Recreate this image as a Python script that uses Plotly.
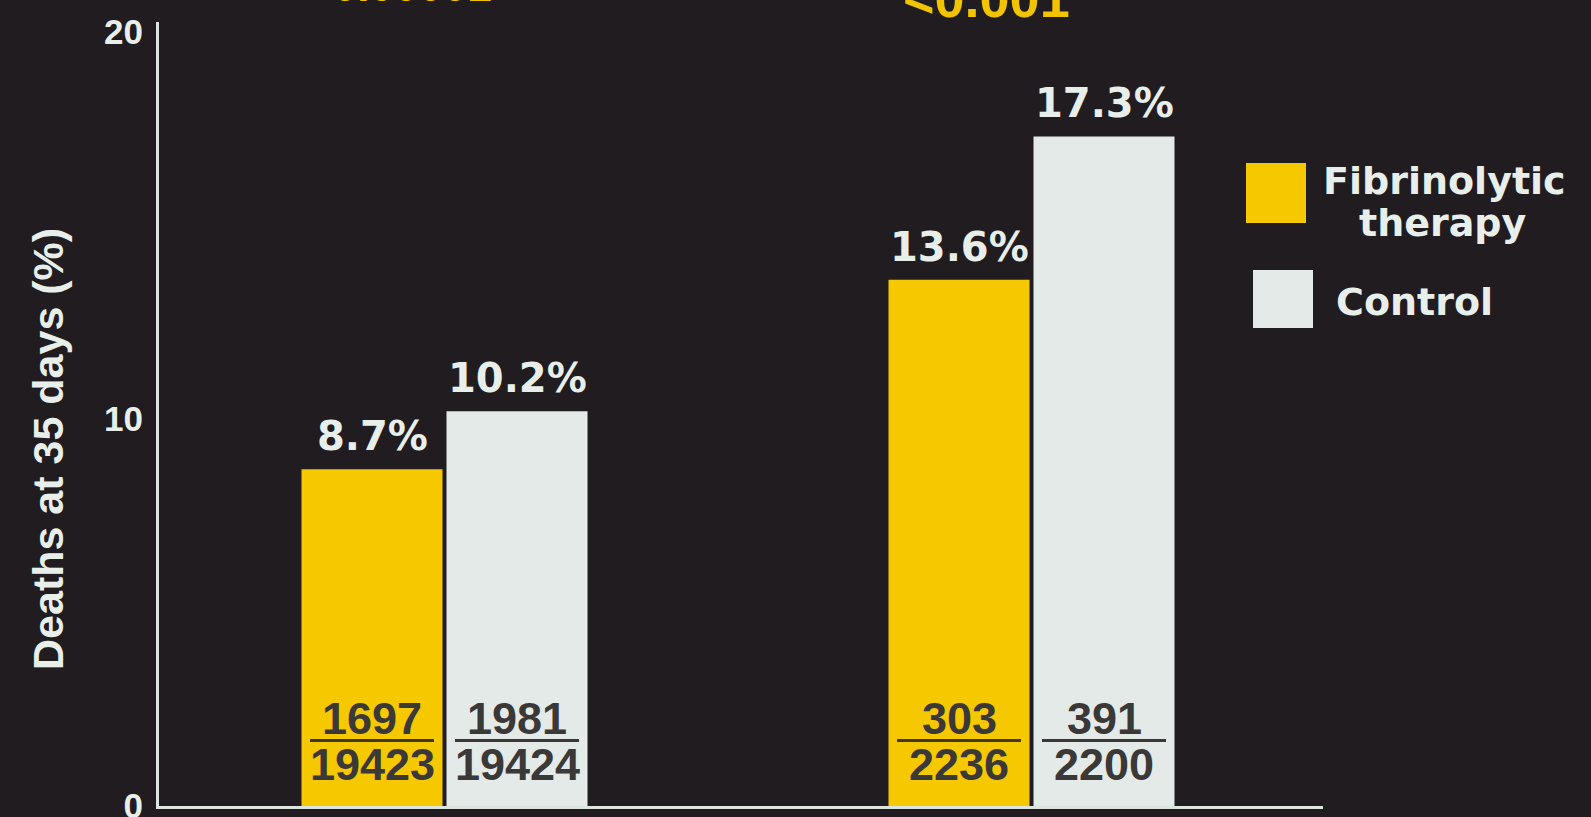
import plotly.graph_objects as go

# 35-day mortality: fibrinolytic therapy vs control in two patient groups
fib_pct = [8.7, 13.6]
ctrl_pct = [10.2, 17.3]
fib_deaths = [1697, 303]
fib_total = [19423, 2236]
ctrl_deaths = [1981, 391]
ctrl_total = [19424, 2200]
p_values = ["<0.00001", "<0.001"]
series_names = ["Fibrinolytic therapy", "Control"]
y_ticks = [0, 10, 20]

# page / plot geometry (pixels)
W, H = 1591, 817
L, R, T, B = 159, 268, 22, 11
PLOT_W = W - L - R
PLOT_H = H - T - B
PX_PER_PCT = 38.7
Y_MAX = PLOT_H / PX_PER_PCT

GROUP_PX = 587                      # distance between the two group centres
X_MIN = -285.5 / GROUP_PX
X_MAX = X_MIN + PLOT_W / GROUP_PX
BAR_W = 141 / GROUP_PX
GAP = 4 / GROUP_PX
OFFSETS = [-(BAR_W + GAP / 2), GAP / 2]

BG = "#201c20"
YELLOW = "#f6c800"
LIGHT = "#e4eae7"
TEXT = "#e8efeb"
DARK_TEXT = "#3b3838"
AXIS = "#dde5e1"
BOLD_SANS = "Liberation Sans"
WIDE_SANS = "DejaVu Sans"


def py(p):
    """page pixel row -> paper y"""
    return (H - B - p) / PLOT_H


def px(p):
    """page pixel column -> paper x"""
    return (p - L) / PLOT_W


groups = list(range(len(fib_pct)))
series = [
    (fib_pct, fib_deaths, fib_total, YELLOW),
    (ctrl_pct, ctrl_deaths, ctrl_total, LIGHT),
]

fig = go.Figure()
annotations = []
shapes = []

for k, (pct, deaths, total, color) in enumerate(series):
    fig.add_trace(go.Bar(
        x=groups, y=pct, name=series_names[k],
        width=BAR_W, offset=OFFSETS[k],
        marker=dict(color=color, line=dict(width=0)),
        showlegend=False, hoverinfo="skip",
    ))
    for g in groups:
        cx = g + OFFSETS[k] + BAR_W / 2
        annotations.append(dict(
            x=cx, y=pct[g], xref="x", yref="y", text=f"{pct[g]}%",
            showarrow=False, yanchor="middle", yshift=33,
            font=dict(family=WIDE_SANS, size=40, color=TEXT, weight="bold"),
        ))
        annotations.append(dict(
            x=cx, y=0, xref="x", yref="y", text=str(deaths[g]),
            showarrow=False, yanchor="middle", yshift=88,
            font=dict(family=BOLD_SANS, size=45, color=DARK_TEXT, weight="bold"),
        ))
        annotations.append(dict(
            x=cx, y=0, xref="x", yref="y", text=str(total[g]),
            showarrow=False, yanchor="middle", yshift=42,
            font=dict(family=BOLD_SANS, size=45, color=DARK_TEXT, weight="bold"),
        ))
        shapes.append(dict(
            type="line", xref="x", yref="y",
            xsizemode="pixel", xanchor=cx, x0=-62, x1=62,
            ysizemode="pixel", yanchor=0, y0=65.5, y1=65.5,
            line=dict(color=DARK_TEXT, width=3),
        ))

# significance levels above each group
p_fonts = [44, 54]
p_rows = [-15, -2]
for g in groups:
    annotations.append(dict(
        x=g, y=py(p_rows[g]), xref="x", yref="paper", text=p_values[g],
        showarrow=False, xshift=-45, yanchor="middle",
        font=dict(family=BOLD_SANS, size=p_fonts[g], color="#f2c400", weight="bold"),
    ))

# y-axis title
annotations.append(dict(
    x=px(48), y=py(449), xref="paper", yref="paper",
    text="Deaths at 35 days (%)", textangle=-90, showarrow=False,
    xanchor="center", yanchor="middle",
    font=dict(family=BOLD_SANS, size=43, color=TEXT, weight="bold"),
))

# legend
shapes.append(dict(type="rect", xref="paper", yref="paper",
                   x0=px(1246), x1=px(1306), y0=py(223), y1=py(163),
                   fillcolor=YELLOW, line=dict(width=0)))
shapes.append(dict(type="rect", xref="paper", yref="paper",
                   x0=px(1253), x1=px(1313), y0=py(328), y1=py(270),
                   fillcolor=LIGHT, line=dict(width=0)))
legend_font = dict(family=WIDE_SANS, size=38, color=TEXT, weight="bold")
annotations.append(dict(x=px(1321), y=py(181), xref="paper", yref="paper",
                        text="Fibrinolytic", showarrow=False, xanchor="left",
                        yanchor="middle", font=legend_font))
annotations.append(dict(x=px(1443), y=py(223), xref="paper", yref="paper",
                        text="therapy", showarrow=False, xanchor="center",
                        yanchor="middle", font=legend_font))
annotations.append(dict(x=px(1334), y=py(302), xref="paper", yref="paper",
                        text="Control", showarrow=False, xanchor="left",
                        yanchor="middle", font=legend_font))

fig.update_layout(
    width=W, height=H, autosize=False,
    margin=dict(l=L, r=R, t=T, b=B, pad=0, autoexpand=False),
    paper_bgcolor=BG, plot_bgcolor=BG,
    barmode="overlay",
    annotations=annotations, shapes=shapes,
    xaxis=dict(range=[X_MIN, X_MAX], showticklabels=False, ticks="",
               showgrid=False, zeroline=False, showline=True,
               automargin=False,
               linecolor=AXIS, linewidth=3, fixedrange=True),
    yaxis=dict(range=[0, Y_MAX], tickvals=y_ticks,
               ticktext=[str(v) for v in y_ticks], ticks="",
               ticklabelstandoff=6, ticklabeloverflow="allow",
               automargin=False,
               tickfont=dict(family=BOLD_SANS, size=35, color=TEXT, weight="bold"),
               showgrid=False, zeroline=False, showline=True,
               linecolor=AXIS, linewidth=3, fixedrange=True),
)

fig.write_html("out.html")
